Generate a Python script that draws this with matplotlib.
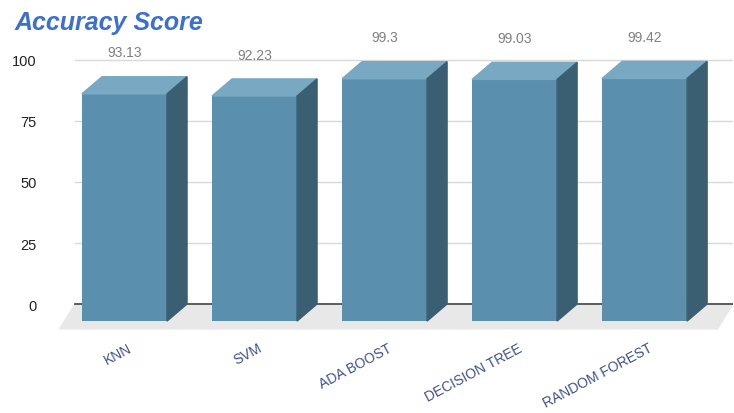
import matplotlib.pyplot as plt
from matplotlib.patches import Polygon

models = ['KNN', 'SVM', 'ADA BOOST', 'DECISION TREE', 'RANDOM FOREST']
accuracy = [93.13, 92.23, 99.3, 99.03, 99.42]
y_ticks = [0, 25, 50, 75, 100]

FRONT = '#5a8fad'
TOP = '#78a8c2'
SIDE = '#3b5f72'
BAR_W = 0.654
DX, DY = 0.154, 7.0          # pseudo-3D depth offset (x units, y units)

fig = plt.figure(figsize=(7.34, 4.14), dpi=100)
ax = fig.add_axes([53 / 734, 1 - 334.3 / 414, 680 / 734, 283.1 / 414])
ax.set_xlim(-0.55, 4.68)
ax.set_ylim(-12, 104)
for s in ax.spines.values():
    s.set_visible(False)

# floor
ax.add_patch(Polygon([(-0.5, -10.2), (4.56, -10.2), (4.68, 0), (-0.38, 0)],
                     closed=True, color='#e8e8e8', zorder=0))

# back wall grid
for t in y_ticks[1:]:
    ax.plot([-0.38, 4.68], [t, t], color='#d9d9d9', lw=1, zorder=1)
ax.plot([-0.38, 4.68], [0, 0], color='#444444', lw=1.2, zorder=1)

ax.set_yticks(y_ticks)
ax.set_yticklabels([str(t) for t in y_ticks], fontfamily='Liberation Sans',
                   fontsize=10.5, color='#222222')
ax.tick_params(axis='y', length=0, pad=12)
ax.set_xticks([])

x = list(range(len(models)))
ax.bar(x, accuracy, width=BAR_W, bottom=-DY, color=FRONT, zorder=3)
for i, v in zip(x, accuracy):
    x0, x1 = i - BAR_W / 2, i + BAR_W / 2
    top = v - DY
    ax.add_patch(Polygon([(x0, top), (x1, top), (x1 + DX, v), (x0 + DX, v)],
                         closed=True, color=TOP, zorder=3))
    ax.add_patch(Polygon([(x1, -DY), (x1 + DX, 0), (x1 + DX, v), (x1, top)],
                         closed=True, color=SIDE, zorder=3))
    ax.text(i, v + 10, f'{v:g}', ha='center', va='center', fontsize=10,
            fontfamily='Liberation Sans', color='#808080')
    ax.text(i + 0.05, -17.5, models[i], ha='right', va='center', rotation=28,
            rotation_mode='anchor', fontsize=10, fontfamily='Liberation Sans',
            color='#3f5188', clip_on=False)

fig.text(15 / 734, 1 - 30 / 414, 'Accuracy Score', fontfamily='Liberation Sans',
         fontsize=18, fontweight='bold', fontstyle='italic', color='#3d6fd1',
         va='baseline', ha='left')

fig.savefig('out.png', dpi=100)
